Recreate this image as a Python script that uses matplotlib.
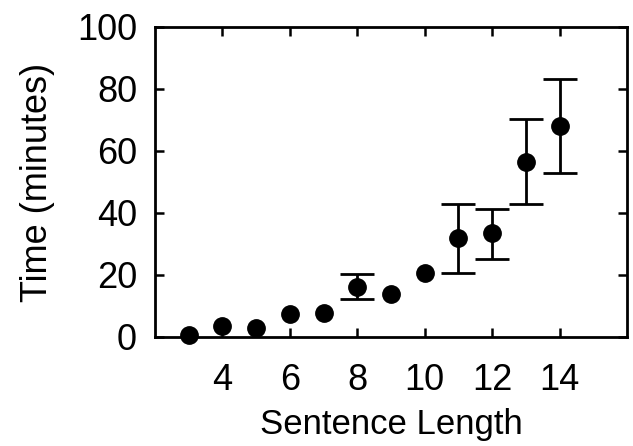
import numpy as np
import matplotlib
matplotlib.use("Agg")
import matplotlib.pyplot as plt

plt.rcParams["font.family"] = ["Liberation Sans", "DejaVu Sans"]

sentence_length = [3, 4, 5, 6, 7, 8, 9, 10, 11, 12, 13, 14]
time_minutes = [0.6, 3.5, 2.9, 7.4, 7.7, 16.1, 13.9, 20.6, 31.9, 33.5, 56.5, 68.1]

# error bars only where the reference shows them
err_x = [8, 11, 12, 13, 14]
err_mean = [16.1, 31.9, 33.5, 56.5, 68.1]
err_upper = [20.3, 42.9, 41.3, 70.3, 83.2]
err_lower = [12.3, 20.6, 25.2, 42.9, 52.9]

xticks = [4, 6, 8, 10, 12, 14]
yticks = [0, 20, 40, 60, 80, 100]


def style_axes(ax):
    for side in ["left", "right", "top", "bottom"]:
        ax.spines[side].set_linewidth(2.0)
    ax.tick_params(direction="in", top=True, right=True, length=6.5,
                   width=1.8, labelsize=26)
    ax.tick_params(axis="x", pad=19)
    ax.tick_params(axis="y", pad=13)


fig = plt.figure(figsize=(6.33, 4.46), dpi=100)
ax = fig.add_axes([0.245, 0.2444, 0.7455, 0.6951])

yerr = [np.array(err_mean) - np.array(err_lower),
        np.array(err_upper) - np.array(err_mean)]
ax.errorbar(err_x, err_mean, yerr=yerr, fmt="none", ecolor="black",
            elinewidth=2.0, capsize=12, capthick=2.0, zorder=2)
ax.plot(sentence_length, time_minutes, "o", color="black", markersize=12.5,
        clip_on=False, zorder=3)

ax.set_xlim(2, 16)
ax.set_ylim(0, 100)
ax.set_xticks(xticks)
ax.set_yticks(yticks)
ax.set_xlabel("Sentence Length", fontsize=25, labelpad=7)
ax.set_ylabel("Time (minutes)", fontsize=26, labelpad=16)
style_axes(ax)

fig.savefig("out.png", dpi=100)
plt.close(fig)
